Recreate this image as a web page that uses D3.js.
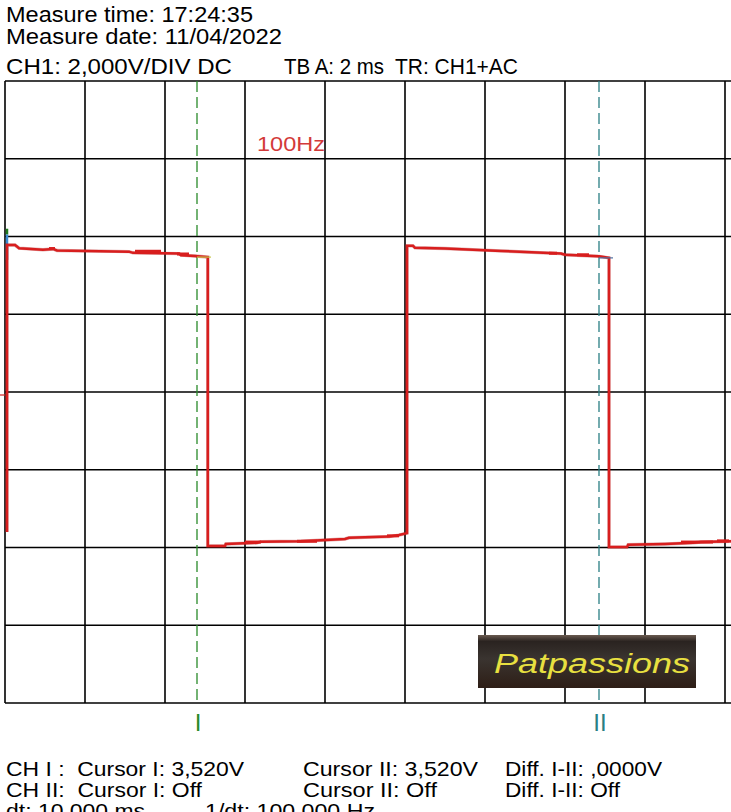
<!DOCTYPE html>
<html>
<head>
<meta charset="utf-8">
<script src="https://cdn.jsdelivr.net/npm/d3@7/dist/d3.min.js"></script>
<style>
  html, body { margin: 0; padding: 0; background: #fff; }
  svg { display: block; }
  text { font-family: "Liberation Sans", Arial, sans-serif; white-space: pre; }
</style>
</head>
<body>
<svg id="scope" width="731" height="812"></svg>
<script>
// header / footer texts, as shown by the scope software
var headerLines = ['Measure time: 17:24:35', 'Measure date: 11/04/2022']
var settingsLine = ['CH1: 2,000V/DIV DC', 'TB A: 2 ms', 'TR: CH1+AC']
var footerRows = [
  ['CH I :  Cursor I: 3,520V', 'Cursor II: 3,520V', 'Diff. I-II: ,0000V'],
  ['CH II:  Cursor I: Off', 'Cursor II: Off', 'Diff. I-II: Off'],
  ['dt: 10,000 ms', '1/dt: 100,000 Hz']
]
var note = '100Hz'
var logoText = 'Patpassions'

// grid: 10 divisions of 2 ms, 8 divisions of 2 V
var timeTicks = [0, 2, 4, 6, 8, 10, 12, 14, 16, 18, 20]
var voltTicks = [-8, -6, -4, -2, 0, 2, 4, 6, 8]

// CH1 trace, time in ms, voltage in V
var traceTime = [0.05, 0.05, 0.25, 0.3, 0.35, 0.95, 1.2, 1.3, 2.0, 3.1, 3.2, 4.35, 4.4, 4.75, 5.07,
  5.07, 5.5, 5.52, 6.3, 6.4, 7.4, 8.5, 8.6, 9.6, 9.85, 10.05,
  10.05, 10.2, 10.25, 11.0, 12.4, 13.9, 14.0, 14.85, 15.1,
  15.1, 15.55, 15.58, 16.5, 17.2, 17.4, 18.2]
var traceVolt = [-3.60, 3.78, 3.78, 3.74, 3.70, 3.66, 3.68, 3.64, 3.63, 3.61, 3.58, 3.56, 3.52, 3.50, 3.47,
  -3.96, -3.96, -3.91, -3.88, -3.85, -3.84, -3.78, -3.75, -3.72, -3.68, -3.63,
  3.76, 3.76, 3.71, 3.69, 3.63, 3.56, 3.53, 3.49, 3.45,
  -3.99, -3.99, -3.93, -3.91, -3.88, -3.86, -3.84]

// small jitter clusters seen on the flat parts (start ms, end ms, V)
var jitterStart = [1.1, 3.25, 4.3, 13.6, 14.3, 6.0, 7.3, 9.55, 16.9, 17.8]
var jitterEnd = [1.25, 3.9, 4.6, 13.8, 14.6, 6.4, 7.8, 9.85, 17.7, 18.1]
var jitterVolt = [3.69, 3.62, 3.55, 3.57, 3.53, -3.86, -3.84, -3.70, -3.86, -3.83]

// cursors (time in ms)
var cursorTime = [4.8, 14.85]
var cursorLabel = ['I', 'II']
var cursorColor = ['#2a8a2a', '#2a7f84']

var svg = d3.select('#scope')
var plotLeft = 5
var plotTop = 81
var plotBottom = 703

var x = d3.scaleLinear().domain([0, 20]).range([plotLeft, plotLeft + 800])
var y = d3.scaleLinear().domain([-8, 8]).range([plotBottom, plotTop])

// header
var headW = [247, 276]
svg.selectAll('text.head')
  .data(headerLines)
  .enter().append('text')
  .attr('class', 'head')
  .attr('x', 6)
  .attr('y', (d, i) => 22 + i * 22)
  .attr('font-size', 22)
  .attr('textLength', (d, i) => headW[i])
  .attr('lengthAdjust', 'spacingAndGlyphs')
  .attr('fill', '#000')
  .text((d) => d)

var settingsX = [6, 284, 395]
var settingsW = [226, 100, 123]
svg.selectAll('text.set')
  .data(settingsLine)
  .enter().append('text')
  .attr('class', 'set')
  .attr('x', (d, i) => settingsX[i])
  .attr('y', 74)
  .attr('font-size', 22)
  .attr('textLength', (d, i) => settingsW[i])
  .attr('lengthAdjust', 'spacingAndGlyphs')
  .text((d) => d)

// grid
var grid = svg.append('g').attr('stroke', '#000').attr('stroke-width', 1.6)
grid.selectAll('line.v')
  .data(timeTicks)
  .enter().append('line')
  .attr('x1', (d) => x(d)).attr('x2', (d) => x(d))
  .attr('y1', plotTop).attr('y2', plotBottom)
grid.selectAll('line.h')
  .data(voltTicks)
  .enter().append('line')
  .attr('x1', plotLeft).attr('x2', x(20))
  .attr('y1', (d) => y(d)).attr('y2', (d) => y(d))

// ground marker
svg.append('line')
  .attr('x1', 0).attr('x2', plotLeft)
  .attr('y1', y(0) + 3).attr('y2', y(0) + 3)
  .attr('stroke', '#d42020').attr('stroke-width', 1.2)

// note
svg.append('text')
  .attr('x', 257).attr('y', 151)
  .attr('font-family', '"Open Sans", sans-serif')
  .attr('font-size', 21)
  .attr('textLength', 68)
  .attr('lengthAdjust', 'spacingAndGlyphs')
  .attr('fill', '#d33a3a')
  .text(note)

// cursors
var cur = svg.selectAll('g.cursor')
  .data(cursorTime)
  .enter().append('g')
  .attr('class', 'cursor')
cur.append('line')
  .attr('x1', (d) => x(d)).attr('x2', (d) => x(d))
  .attr('y1', plotTop).attr('y2', plotBottom)
  .attr('stroke', (d, i) => cursorColor[i])
  .attr('stroke-width', 1.3)
  .attr('stroke-dasharray', '11,5')
cur.append('text')
  .attr('x', (d) => x(d) + 1)
  .attr('y', 731)
  .attr('text-anchor', 'middle')
  .attr('font-size', 24)
  .attr('fill', (d, i) => cursorColor[i])
  .text((d, i) => cursorLabel[i])

// channel markers at trace start
svg.append('line')
  .attr('x1', x(0.05)).attr('x2', x(0.05))
  .attr('y1', y(4.2)).attr('y2', y(4.05))
  .attr('stroke', '#1f7a1f').attr('stroke-width', 2.5)
svg.append('line')
  .attr('x1', x(0.05)).attr('x2', x(0.05))
  .attr('y1', y(4.05)).attr('y2', y(3.4))
  .attr('stroke', '#3a8ad0').attr('stroke-width', 2.5)

// trace
var points = traceTime.map((t, i) => [t, traceVolt[i]])
var line = d3.line()
  .x((d) => x(d[0]))
  .y((d) => y(d[1]))
svg.append('path')
  .datum(points)
  .attr('fill', 'none')
  .attr('stroke', '#a81818')
  .attr('stroke-width', 3.4)
  .attr('stroke-opacity', 0.35)
  .attr('d', line)
svg.append('path')
  .datum(points)
  .attr('fill', 'none')
  .attr('stroke', '#d81e1e')
  .attr('stroke-width', 2.5)
  .attr('d', line)

// jitter clusters
svg.selectAll('rect.jit')
  .data(jitterStart)
  .enter().append('rect')
  .attr('class', 'jit')
  .attr('x', (d) => x(d))
  .attr('y', (d, i) => y(jitterVolt[i]) - 1.5)
  .attr('width', (d, i) => x(jitterEnd[i]) - x(d))
  .attr('height', 3)
  .attr('fill', '#d81e1e')

// small measurement marks at the falling edges
svg.append('line')
  .attr('x1', x(4.8)).attr('x2', x(5.15))
  .attr('y1', y(3.47)).attr('y2', y(3.47))
  .attr('stroke', '#c8c850').attr('stroke-width', 1.2)
svg.append('line')
  .attr('x1', x(14.85)).attr('x2', x(15.2))
  .attr('y1', y(3.45)).attr('y2', y(3.45))
  .attr('stroke', '#5070a0').attr('stroke-width', 1.2)

// logo
var logo = svg.append('g').attr('transform', 'translate(478,635)')
var grad = svg.append('defs').append('linearGradient')
  .attr('id', 'logoGrad').attr('x1', 0).attr('y1', 0).attr('x2', 0).attr('y2', 1)
grad.append('stop').attr('offset', '0%').attr('stop-color', '#6a5a50')
grad.append('stop').attr('offset', '12%').attr('stop-color', '#2a2320')
grad.append('stop').attr('offset', '45%').attr('stop-color', '#3a3430')
grad.append('stop').attr('offset', '100%').attr('stop-color', '#2e1e16')
logo.append('rect')
  .attr('width', 218).attr('height', 53)
  .attr('fill', 'url(#logoGrad)')
logo.append('text')
  .attr('x', 16).attr('y', 38)
  .attr('font-family', '"DejaVu Serif", serif')
  .attr('font-style', 'italic')
  .attr('font-size', 27)
  .attr('fill', '#e8e040')
  .attr('textLength', 196)
  .attr('lengthAdjust', 'spacingAndGlyphs')
  .text(logoText)

// footer
var colX = [6, 303, 505]
var colW = [[238, 175, 157], [196, 134, 115], [139, 170]]
var colXRow3 = [6, 205]
footerRows.forEach((row, r) => {
  svg.selectAll('text.foot' + r)
    .data(row)
    .enter().append('text')
    .attr('class', 'foot' + r)
    .attr('x', (d, i) => r === 2 ? colXRow3[i] : colX[i])
    .attr('y', 776 + r * 21)
    .attr('font-size', 21)
    .attr('textLength', (d, i) => colW[r][i])
    .attr('lengthAdjust', 'spacingAndGlyphs')
    .text((d) => d)
})
</script>
</body>
</html>
